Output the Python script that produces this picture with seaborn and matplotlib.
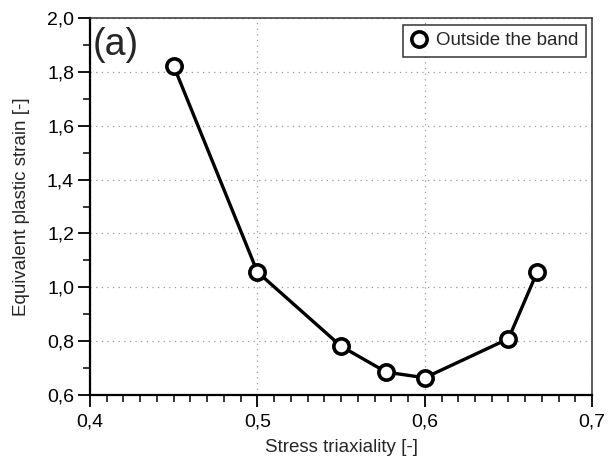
import matplotlib
matplotlib.use("Agg")
import matplotlib.pyplot as plt
import seaborn as sns
import pandas as pd
from matplotlib.ticker import MultipleLocator, FuncFormatter

triaxiality = [0.45, 0.50, 0.55, 0.577, 0.60, 0.65, 0.667]
strain = [1.822, 1.057, 0.781, 0.685, 0.664, 0.809, 1.055]
series_name = "Outside the band"

sns.set_style("white")
plt.rcParams['font.family'] = ['Liberation Sans', 'DejaVu Sans']

df = pd.DataFrame({"x": triaxiality, "y": strain, "s": series_name})

fig = plt.figure(figsize=(6.08, 4.62), dpi=100)
ax = fig.add_axes([0.148, 0.145, 0.826, 0.816])

sns.lineplot(data=df, x="x", y="y", hue="s", palette=["black"], marker="o",
             markersize=11, markerfacecolor="white", markeredgecolor="black",
             markeredgewidth=2.6, linewidth=2.4, ax=ax, sort=False)

ax.set_xlim(0.4, 0.7)
ax.set_ylim(0.6, 2.0)
ax.xaxis.set_major_locator(MultipleLocator(0.1))
ax.xaxis.set_minor_locator(MultipleLocator(0.01))
ax.yaxis.set_major_locator(MultipleLocator(0.2))
ax.yaxis.set_minor_locator(MultipleLocator(0.1))
fmt = FuncFormatter(lambda v, p: f"{v:.1f}".replace(".", ","))
ax.xaxis.set_major_formatter(fmt)
ax.yaxis.set_major_formatter(fmt)
ax.tick_params(which="major", direction="out", length=8.5, width=1.3, labelsize=14, colors="black", pad=3)
ax.tick_params(axis="x", which="major", pad=5)
ax.tick_params(which="minor", direction="out", length=5, width=1.1, colors="black")
ax.tick_params(bottom=True, left=True, which="both")
ax.grid(True, which="major", linestyle=(0, (1, 3.5)), color="#999999", linewidth=0.9)

for side in ["left", "bottom"]:
    ax.spines[side].set_linewidth(1.6)
    ax.spines[side].set_color("black")
for side in ["top", "right"]:
    ax.spines[side].set_linewidth(1.1)
    ax.spines[side].set_color("#333333")

ax.set_xlabel("Stress triaxiality [-]", fontsize=13.5, labelpad=6)
ax.set_ylabel("Equivalent plastic strain [-]", fontsize=13.5, labelpad=12)
ax.text(0.006, 0.975, "(a)", transform=ax.transAxes, fontsize=27, va="top", ha="left")

leg = ax.legend(loc="upper right", fontsize=13.5, frameon=True, fancybox=False,
                handlelength=0.9, handletextpad=0.45, borderpad=0.4,
                borderaxespad=0.35, edgecolor="black", title=None)
leg.get_frame().set_linewidth(1.1)
for h in leg.legend_handles:
    h.set_marker("o")
    h.set_markersize(11)
    h.set_markerfacecolor("white")
    h.set_markeredgecolor("black")
    h.set_markeredgewidth(2.6)
    h.set_linestyle("none")

fig.savefig("out.png", dpi=100)
